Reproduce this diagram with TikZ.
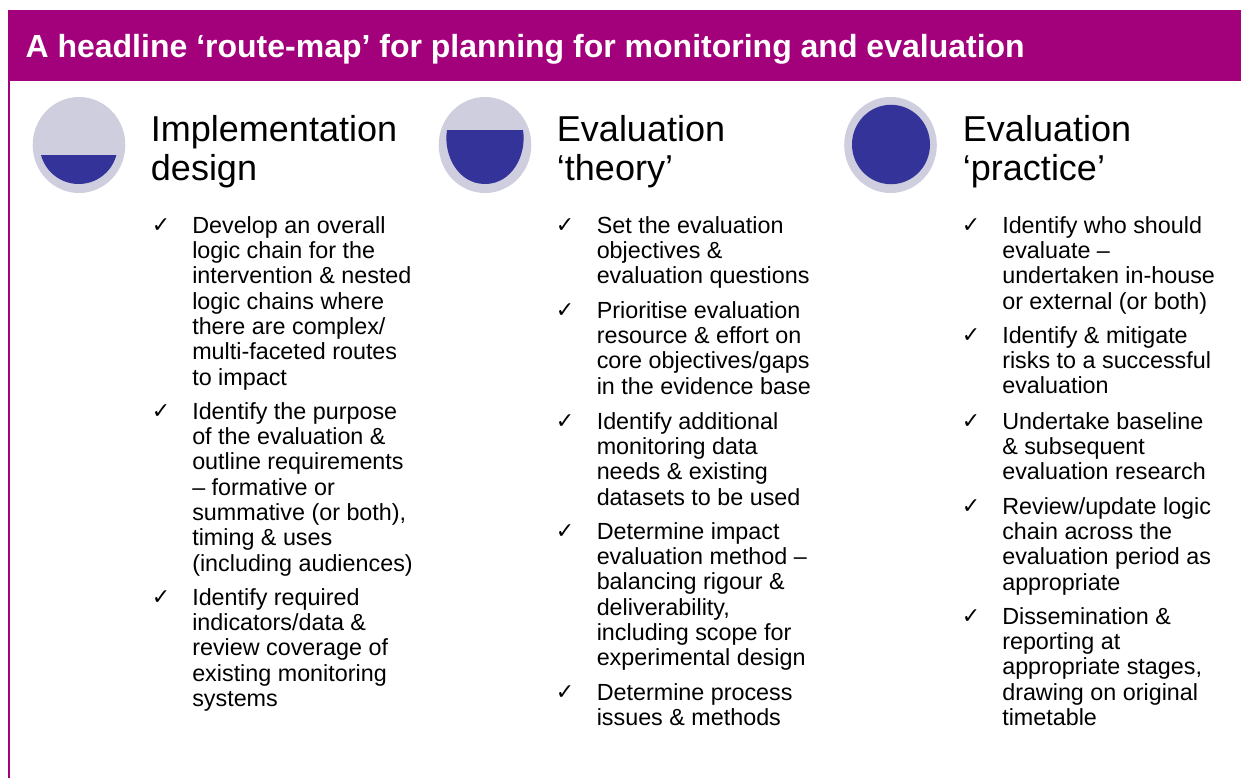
\documentclass[tikz,border=0pt]{standalone}
\usepackage{fontspec}
\setmainfont{Liberation Sans}
\newfontfamily\checkfont{DejaVu Sans}
\definecolor{banner}{HTML}{A3007C}
\definecolor{discback}{HTML}{CECEDF}
\definecolor{discfill}{HTML}{333399}
\tikzset{
  x=0.75pt,y=-0.75pt,
  titletext/.style={anchor=base west,inner sep=0pt,text=white,font=\fontsize{24pt}{30pt}\selectfont\bfseries},
  headtext/.style={anchor=north west,inner sep=0pt,align=left,font=\fontsize{27pt}{29.25pt}\selectfont},
  bodytext/.style={anchor=north west,inner sep=0pt,align=left,font=\fontsize{17.5pt}{19pt}\selectfont},
  ticktext/.style={anchor=base west,inner sep=0pt,font=\fontsize{16.5pt}{20pt}\checkfont},
}
% name, tick x, text x, first-line baseline y, text
\newcommand{\bul}[5]{%
  \node[ticktext] (#1t) at (#2-1.5,#4-0.5) {✓};
  \node[bodytext] (#1) at (#3,#4-17.73) {\strut #5};
}
\begin{document}
\begin{tikzpicture}
\useasboundingbox (0,0) rectangle (1241,778);
\fill[white] (0,0) rectangle (1241,778);
\fill[banner] (8,81) rectangle (10,778);
\fill[banner] (8,10) rectangle (1241,81);
\node[titletext] (title) at (25.3,57.5) {A headline ‘route-map’ for planning for monitoring and evaluation};

% discs
\fill[discback] (79,145) ellipse [x radius=46.3,y radius=48];
\begin{scope}
  \clip (30,155) rectangle (130,200);
  \fill[discfill] (78.7,145) circle [radius=39];
\end{scope}
\fill[discback] (485,145) ellipse [x radius=46.3,y radius=48];
\fill[discfill] (447,130) -- (523,130) .. controls (527,155) and (512,184) .. (485,184) .. controls (458,184) and (443,155) .. (447,130) -- cycle;
\fill[discback] (890.5,145) ellipse [x radius=46.3,y radius=48];
\fill[discfill] (891,144.5) ellipse [x radius=39,y radius=39.7];

% headings
\node[headtext] (h1) at (150.7,114) {\strut Implementation\\design};
\node[headtext] (h2) at (556.7,114) {\strut Evaluation\\‘theory’};
\node[headtext] (h3) at (962.7,114) {\strut Evaluation\\‘practice’};

% column 1
\bul{a1}{153}{192}{233}{Develop an overall\\logic chain for the\\intervention \& nested\\logic chains where\\there are complex/\\multi-faceted routes\\to impact}
\bul{a2}{153}{192}{419}{Identify the purpose\\of the evaluation \&\\outline requirements\\– formative or\\summative (or both),\\timing \& uses\\(including audiences)}
\bul{a3}{153}{192}{605}{Identify required\\indicators/data \&\\review coverage of\\existing monitoring\\systems}
% column 2
\bul{b1}{557}{596.5}{233}{Set the evaluation\\objectives \&\\evaluation questions}
\bul{b2}{557}{596.5}{318}{Prioritise evaluation\\resource \& effort on\\core objectives/gaps\\in the evidence base}
\bul{b3}{557}{596.5}{429}{Identify additional\\monitoring data\\needs \& existing\\datasets to be used}
\bul{b4}{557}{596.5}{539}{Determine impact\\evaluation method –\\balancing rigour \&\\deliverability,\\including scope for\\experimental design}
\bul{b5}{557}{596.5}{700}{Determine process\\issues \& methods}
% column 3
\bul{c1}{963}{1002}{233}{Identify who should\\evaluate –\\undertaken in-house\\or external (or both)}
\bul{c2}{963}{1002}{343}{Identify \& mitigate\\risks to a successful\\evaluation}
\bul{c3}{963}{1002}{429}{Undertake baseline\\\& subsequent\\evaluation research}
\bul{c4}{963}{1002}{514}{Review/update logic\\chain across the\\evaluation period as\\appropriate}
\bul{c5}{963}{1002}{624}{Dissemination \&\\reporting at\\appropriate stages,\\drawing on original\\timetable}
\end{tikzpicture}
\end{document}
